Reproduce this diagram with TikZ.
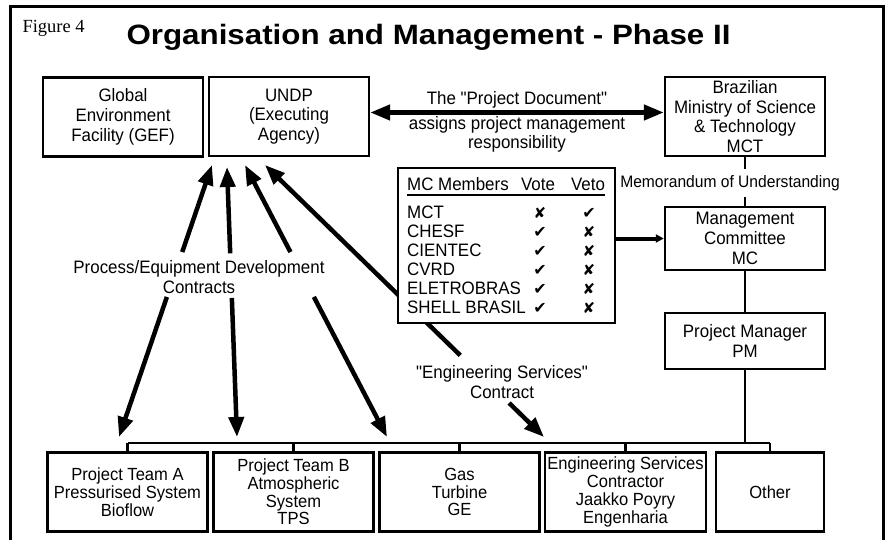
\documentclass[tikz,border=0pt]{standalone}
\usepackage{graphicx}
\usepackage{fontspec}
\setmainfont[FakeStretch=0.94, Ligatures=TeXOff]{Liberation Sans}
\newfontfamily\figfont{Liberation Serif}
\newfontfamily\dingfont{DejaVu Sans}
\usetikzlibrary{arrows.meta,calc}

% marks used in the members table
\newcommand{\mcyes}{{\dingfont\fontsize{16}{16}\selectfont ✔}}
\newcommand{\mcno}{{\dingfont\fontsize{15}{15}\selectfont ✘}}

\begin{document}
\begin{tikzpicture}[
	x=1pt, y=-1pt,
	font=\fontsize{18}{19.7}\selectfont,
	org/.style={draw, line width=2.4pt, fill=white, align=center, inner sep=1pt,
		minimum width=160pt, minimum height=79pt},
	team/.style={org, font=\fontsize{17.6}{17.8}\selectfont},
	link/.style={line width=2.4pt},
	pull/.style={line width=4.5pt, -{Triangle[length=20pt,width=15pt]}},
	tag/.style={align=center, inner sep=1pt},
	cell/.style={inner sep=0pt},
	]
\useasboundingbox (0,0) rectangle (888,540);
% frame and heading
\draw[line width=3pt] (10,560) -- (10,7) -- (883,7) -- (883,560);
\node[anchor=base west, font=\figfont\fontsize{18.5}{18}\selectfont] (fig) at (19,33) {Figure 4};
\node[anchor=base west, font=\bfseries\fontsize{28}{30}\selectfont] (title) at (123,45)
	{\scalebox{1.19}[1]{Organisation and Management - Phase II}};

% top row
\node[org] (gef) at (123,117) {Global\\Environment\\Facility (GEF)};
\node[org] (undp) at (289,116.5) {UNDP\\(Executing\\Agency)};
\node[org] (mct) at (745,116.5) {Brazilian\\Ministry of Science\\\& Technology\\MCT};

% right column
\node[org, minimum height=63pt] (mc) at (745,238.5) {Management\\Committee\\MC};
\node[org, minimum height=56pt] (pm) at (745,341) {Project Manager\\PM};

% bottom row
\node[team] (teamA) at (127.5,492) {Project Team A\\Pressurised System\\Bioflow};
\node[team] (teamB) at (293.5,492) {Project Team B\\Atmospheric\\System\\TPS};
\node[team] (gas) at (459.5,492) {Gas\\Turbine\\GE};
\node[team, minimum width=161pt] (eng) at (625.5,492) {Engineering Services\\Contractor\\Jaakko Poyry\\Engenharia};
\node[team, minimum width=108pt] (other) at (770,492) {Other};

\draw[link] (mct) -- (mc);
\draw[link] (mc) -- (pm);
\node[fill=white, inner xsep=2pt, inner ysep=6pt, font=\fontsize{16.6}{18}\selectfont] (mou) at (730,183)
	{Memorandum of Understanding};

\coordinate (bus) at (0,443);
\draw[link] (teamA.north |- bus) -- (other.north |- bus);
\foreach \t in {teamA,teamB,gas,eng,other}
	\draw[link] (\t.north) -- (\t.north |- bus);
\draw[link] (pm.south) -- (pm.south |- bus);

% project document
\draw[line width=4.5pt, {Triangle[length=20pt,width=15pt]}-{Triangle[length=20pt,width=15pt]}]
	([yshift=4pt]undp.east) -- ([yshift=4pt]mct.west);
\node[anchor=base] (doc) at (517,105) {The "Project Document"};
\node[tag, anchor=north] (assigns) at (517,115) {assigns project management\\responsibility};

% contracts
\coordinate (u1) at (212,165); \coordinate (d1) at (119,437);
\coordinate (u2) at (227,167); \coordinate (d2) at (237,437);
\coordinate (u3) at (245,165); \coordinate (d3) at (387,437);
\coordinate (u4) at (265,165); \coordinate (d4) at (544,437);
\foreach \i in {1,2,3} {
	\draw[pull] ($(u\i)!0.32!(d\i)$) -- (u\i);
	\draw[pull] ($(u\i)!0.485!(d\i)$) -- (d\i);
}
\draw[pull] ($(u4)!0.70!(d4)$) -- (u4);
\draw[pull] ($(u4)!0.875!(d4)$) -- (d4);
\node[tag] (process) at (199,277) {Process/Equipment Development\\Contracts};
\node[tag] (service) at (502,382) {"Engineering Services"\\Contract};

% members table
\node[draw, line width=2.4pt, fill=white, minimum width=217pt, minimum height=155pt] (members) at (506.5,245.5) {};
\node[cell, anchor=base west] (head) at (407,190) {MC Members};
\node[cell, anchor=base] (vote) at (538,190) {Vote};
\node[cell, anchor=base] (veto) at (588,190) {Veto};
\draw[line width=1.8pt] ([yshift=-5pt]head.base west) -- ([yshift=-5pt]veto.base east);
\foreach \who/\vt/\vo [count=\i from 0] in {MCT/\mcno/\mcyes, CHESF/\mcyes/\mcno,
		CIENTEC/\mcyes/\mcno, CVRD/\mcyes/\mcno, ELETROBRAS/\mcyes/\mcno, SHELL BRASIL/\mcyes/\mcno} {
	\node[cell, anchor=base west] (who\i) at (407,{218+19*\i}) {\who};
	\node[cell, anchor=base] (vote\i) at (540,{218+19*\i}) {\vt};
	\node[cell, anchor=base] (veto\i) at (589,{218+19*\i}) {\vo};
}
\draw[line width=4pt, -{Triangle[length=8pt,width=8pt]}] (members.east |- mc.west) -- (mc.west);
\end{tikzpicture}
\end{document}
